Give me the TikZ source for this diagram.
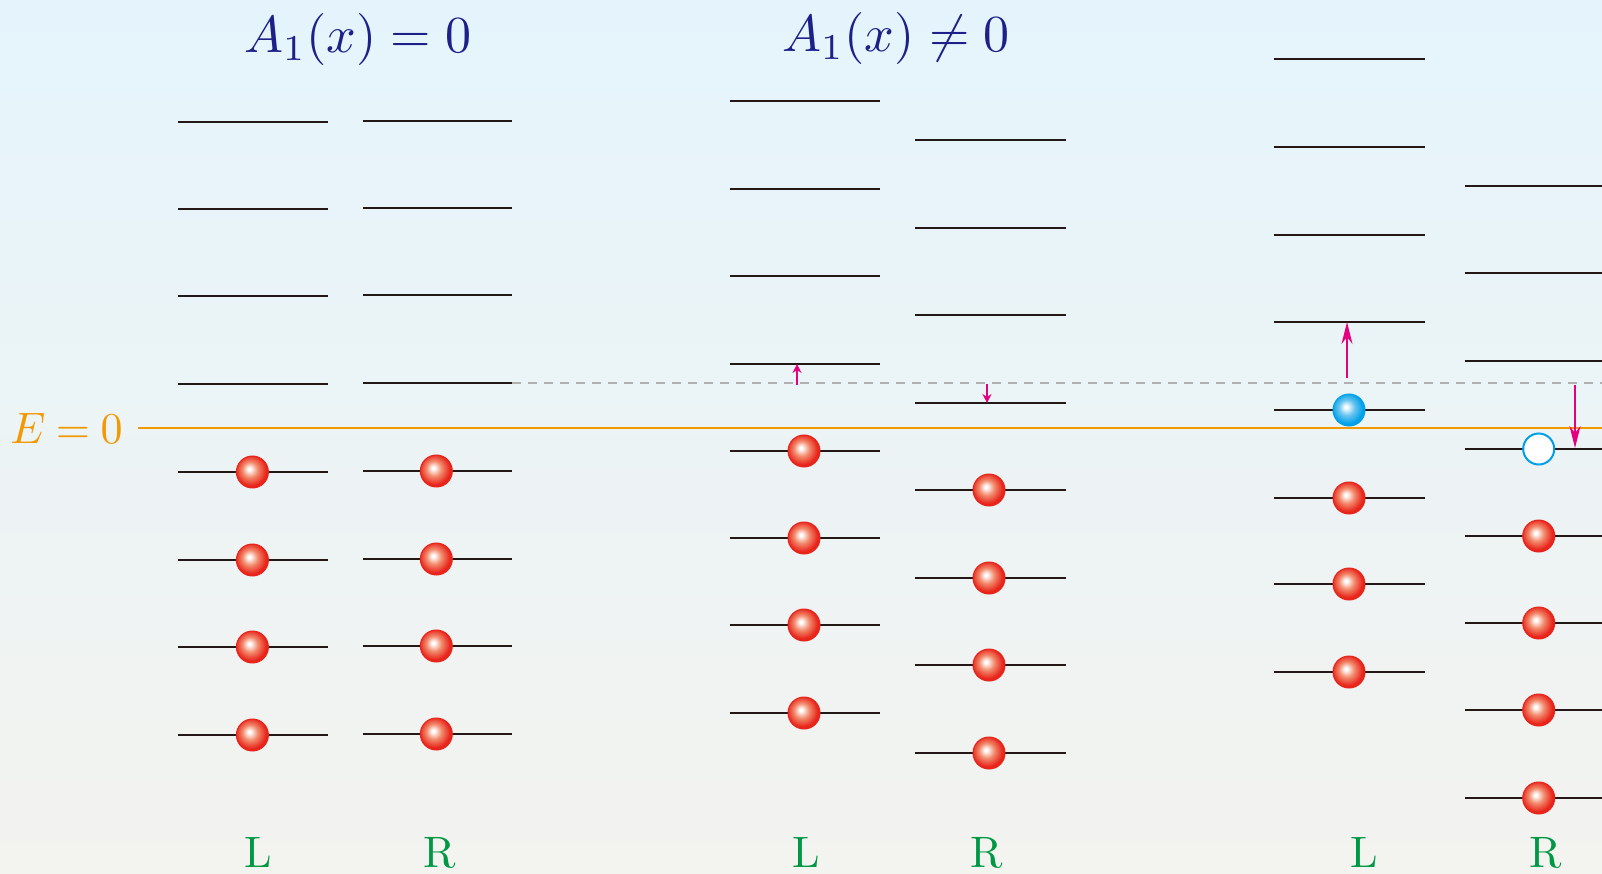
\documentclass[tikz,border=0pt]{standalone}
\usepackage{graphicx}
\usetikzlibrary{arrows.meta}
\definecolor{bgtop}{HTML}{E5F4FC}
\definecolor{bgmid}{HTML}{F3F6F5}
\definecolor{bgbot}{HTML}{F3F3EF}
\definecolor{levelc}{HTML}{231815}
\definecolor{zeroc}{HTML}{F39800}
\definecolor{titlec}{HTML}{1D2088}
\definecolor{labelc}{HTML}{009844}
\definecolor{arrowc}{HTML}{E4007F}
\definecolor{dashc}{HTML}{B0B0B0}
\definecolor{rimred}{HTML}{E8231A}
\definecolor{midred}{HTML}{F28A6C}
\definecolor{rimblue}{HTML}{00A0E9}
\definecolor{midblue}{HTML}{6CC6F0}
\pgfdeclareradialshading{redballsh}{\pgfpoint{-5bp}{5bp}}{%
  color(0bp)=(white); color(2bp)=(white); color(12bp)=(midred);
  color(24bp)=(rimred); color(50bp)=(rimred)}
\pgfdeclareradialshading{blueballsh}{\pgfpoint{-5bp}{5bp}}{%
  color(0bp)=(white); color(2bp)=(white); color(12bp)=(midblue);
  color(24bp)=(rimblue); color(50bp)=(rimblue)}
\newcommand{\bigtxt}[2]{\scalebox{#1}{#2}}
\tikzset{
  level/.style={draw=levelc, line width=2pt},
  redball/.style={circle, minimum size=32pt, inner sep=0pt, shade, shading=redballsh, draw=rimred, line width=1pt},
  blueball/.style={circle, minimum size=32pt, inner sep=0pt, shade, shading=blueballsh, draw=rimblue, line width=1pt},
  hole/.style={circle, minimum size=31pt, inner sep=0pt, fill=white, draw=rimblue, line width=2pt},
  bigarrow/.style={draw=arrowc, line width=2pt, -{Stealth[length=22pt,width=11pt,inset=7pt]}},
  smallarrow/.style={draw=arrowc, line width=1.8pt, -{Stealth[length=9pt,width=9pt,inset=3pt]}},
  titlelab/.style={text=titlec, anchor=base, inner sep=0pt},
  sidelab/.style={text=labelc, anchor=base, inner sep=0pt},
  zerolab/.style={text=zeroc, anchor=base, inner sep=0pt},
}
\begin{document}
\begin{tikzpicture}[x=1pt,y=-1pt]
\shade[top color=bgtop, middle color=bgmid, bottom color=bgbot] (0,0) rectangle (1602,874);
\useasboundingbox (0,0) rectangle (1602,874);
% titles
\node[titlelab] (t1) at (358,53) {\bigtxt{5.2}{$A_1(x) = 0$}};
\node[titlelab] (t2) at (896,52) {\bigtxt{5.2}{$A_1(x) \neq 0$}};
% dashed reference and E=0
\coordinate (dashL) at (512,383);
\coordinate (dashR) at (1602,383);
\draw[dashc, line width=1.8pt, dash pattern=on 9pt off 7pt] (dashL) -- (dashR);
\coordinate (zeroL) at (138,428);
\coordinate (zeroR) at (1602,428);
\draw[zeroc, line width=2.2pt] (zeroL) -- (zeroR);
\node[zerolab] (ez) at (66.5,443) {\bigtxt{4.4}{$E\mskip-0.7mu=\mskip-0.7mu0$}};
% group 1 L
\foreach \y [count=\i] in {122,209,296,384,472,560,647,735}
  \draw[level] (178,\y) coordinate (aL\i) -- (328,\y);
\foreach \i in {5,...,8} \node[redball] (baL\i) at (252.4,0 |- aL\i) {};
% group 1 R
\foreach \y [count=\i] in {121,208,295,383,471,559,646,734}
  \draw[level] (363,\y) coordinate (aR\i) -- (512,\y);
\foreach \i in {5,...,8} \node[redball] (baR\i) at (436.3,0 |- aR\i) {};
% group 2 L
\foreach \y [count=\i] in {101,189,276,364,451,538,625,713}
  \draw[level] (729.5,\y) coordinate (bL\i) -- (879.7,\y);
\foreach \i in {5,...,8} \node[redball] (bbL\i) at (804,0 |- bL\i) {};
% group 2 R
\foreach \y [count=\i] in {140,228,315,403,490,578,665,753}
  \draw[level] (915.4,\y) coordinate (bR\i) -- (1065.6,\y);
\foreach \i in {5,...,8} \node[redball] (bbR\i) at (989,0 |- bR\i) {};
% group 3 L
\foreach \y [count=\i] in {59,147,235,322,410,498,584,672}
  \draw[level] (1274,\y) coordinate (cL\i) -- (1425,\y);
\node[blueball] (bcL5) at (1349,0 |- cL5) {};
\foreach \i in {6,7,8} \node[redball] (bcL\i) at (1349,0 |- cL\i) {};
% group 3 R
\foreach \y [count=\i] in {186,273,361,449,536,623,710,798}
  \draw[level] (1465,\y) coordinate (cR\i) -- (1602,\y);
\node[hole] (hcR4) at (1538.7,0 |- cR4) {};
\foreach \i in {5,...,8} \node[redball] (bcR\i) at (1538.7,0 |- cR\i) {};
% shift arrows
\coordinate (s1a) at (797,385); \coordinate (s1b) at (797,364);
\draw[smallarrow] (s1a) -- (s1b);
\coordinate (s2a) at (987,384); \coordinate (s2b) at (987,403);
\draw[smallarrow] (s2a) -- (s2b);
\coordinate (s3a) at (1347,378); \coordinate (s3b) at (1347,322);
\draw[bigarrow] (s3a) -- (s3b);
\coordinate (s4a) at (1575,385); \coordinate (s4b) at (1575,448);
\draw[bigarrow] (s4a) -- (s4b);
% bottom labels
\node[sidelab] (l1) at (258,867) {\bigtxt{4.4}{L}};
\node[sidelab] (r1) at (440,867) {\bigtxt{4.4}{R}};
\node[sidelab] (l2) at (806,867) {\bigtxt{4.4}{L}};
\node[sidelab] (r2) at (987,867) {\bigtxt{4.4}{R}};
\node[sidelab] (l3) at (1364,867) {\bigtxt{4.4}{L}};
\node[sidelab] (r3) at (1546,867) {\bigtxt{4.4}{R}};
\end{tikzpicture}
\end{document}
